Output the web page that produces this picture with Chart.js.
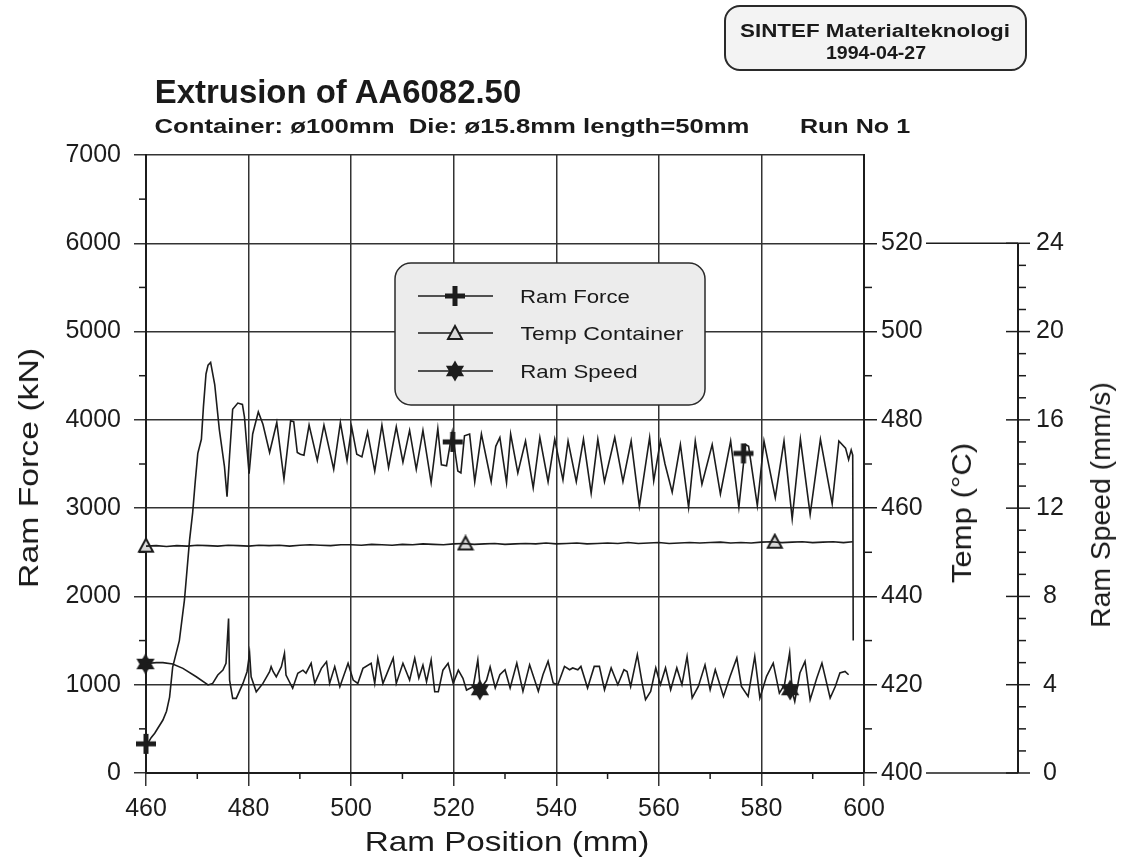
<!DOCTYPE html>
<html><head><meta charset="utf-8">
<script src="https://cdn.jsdelivr.net/npm/chart.js@4.4.1/dist/chart.umd.min.js"></script>
<style>
html,body{margin:0;padding:0;background:#fff;}
#wrap{position:relative;width:1124px;height:858px;overflow:hidden;font-family:"Liberation Sans",Arial,sans-serif;color:#1a1a1a;}
#c{position:absolute;left:0;top:0;}
.t{position:absolute;white-space:pre;line-height:1;transform-origin:50% 50%;}
.b{font-weight:bold;}
#hdr{position:absolute;left:724px;top:5px;width:299px;height:62px;border:2px solid #2a2a2a;border-radius:16px;background:#f3f3f3;}
</style></head>
<body><div id="wrap">
<div id="hdr"></div>
<canvas id="c" width="1124" height="858"></canvas>
<div class="t b" style="font-size:18px" data-cx="875" data-cy="31" data-w="270">SINTEF Materialteknologi</div>
<div class="t b" style="font-size:18px" data-cx="876" data-cy="53" data-w="100">1994-04-27</div>
<div class="t b" style="font-size:34px" data-cx="338" data-cy="91" data-w="367">Extrusion of AA6082.50</div>
<div class="t b" style="font-size:21px" data-cx="452" data-cy="125" data-w="595">Container: ø100mm  Die: ø15.8mm length=50mm</div>
<div class="t b" style="font-size:21px" data-cx="855" data-cy="125" data-w="110">Run No 1</div>
<div class="t" style="font-size:28px" data-cx="507" data-cy="842" data-w="285">Ram Position (mm)</div>
<div class="t" style="font-size:28px" data-cx="29" data-cy="468" data-w="240" data-r="-90">Ram Force (kN)</div>
<div class="t" style="font-size:28px" data-cx="962" data-cy="513" data-w="140" data-r="-90">Temp (°C)</div>
<div class="t" style="font-size:28px" data-cx="1101" data-cy="505" data-w="246" data-r="-90">Ram Speed (mm/s)</div>
<div class="t" style="font-size:19px" data-cx="575" data-cy="296" data-w="110">Ram Force</div>
<div class="t" style="font-size:19px" data-cx="601.5" data-cy="333" data-w="163">Temp Container</div>
<div class="t" style="font-size:19px" data-cx="578.5" data-cy="371" data-w="117">Ram Speed</div>
</div>
<script>
// ---------- data ----------
const xTicks = [460, 480, 500, 520, 540, 560, 580, 600];
const forceTicks = [0, 1000, 2000, 3000, 4000, 5000, 6000, 7000];
const tempTicks = [400, 420, 440, 460, 480, 500, 520];
const speedTicks = [0, 4, 8, 12, 16, 20, 24];

const forcePos = [460.0,461.0,461.7,463.3,464.0,464.6,465.2,466.5,467.5,468.5,469.1,469.6,470.1,470.8,471.2,471.7,472.1,472.6,473.4,474.3,475.3,475.8,476.3,476.9,477.9,478.8,479.2,480.1,480.8,481.9,482.8,484.1,485.5,486.9,488.2,488.8,489.5,490.1,490.8,491.8,493.4,494.7,496.6,497.9,499.2,500.1,501.1,502.1,503.2,504.6,506.0,507.3,508.8,510.1,511.4,512.7,514.0,515.6,516.9,517.6,518.6,519.7,520.8,521.4,522.1,523.1,524.1,525.4,527.3,528.2,529.0,530.3,531.1,532.5,534.0,535.5,536.8,538.4,539.7,541.3,542.3,543.9,545.3,546.8,548.1,549.4,551.4,553.0,554.6,556.2,558.2,559.0,560.3,561.2,562.6,564.2,565.8,567.1,568.4,570.4,572.0,574.0,575.6,576.9,577.5,579.2,580.5,582.7,584.4,586.0,587.6,589.5,591.5,593.8,595.1,596.4,597.0,597.5,597.8,597.9];
const forceVal = [300,400,450,600,700,860,1200,1500,1960,2640,2950,3300,3620,3780,4150,4520,4620,4650,4400,3890,3470,3130,3600,4120,4190,4175,4030,3390,3840,4090,3950,3630,3970,3330,3990,3980,3630,3610,3600,3940,3540,3940,3440,3970,3540,3920,3610,3580,3860,3420,3940,3460,3920,3520,3880,3440,3880,3290,3900,3490,3480,3860,3420,3400,3820,3840,3300,3840,3300,3700,3800,3290,3840,3400,3760,3230,3800,3300,3780,3320,3760,3300,3780,3170,3780,3300,3800,3300,3760,3020,3800,3310,3760,3500,3180,3720,3010,3760,3270,3720,3160,3760,3010,3720,3700,3030,3760,3120,3760,2880,3780,2930,3780,3050,3760,3680,3550,3660,3600,1500];

const tempPos = [460,462,464,466,468,470,472,474,476,478,480,482,484,486,488,490,492,494,496,498,500,502,504,506,508,510,512,514,516,518,520,522,524,526,528,530,532,534,536,538,540,542,544,546,548,550,552,554,556,558,560,562,564,566,568,570,572,574,576,578,580,582,584,586,588,590,592,594,596,597.8];
const tempVal = [451.4,451.5,451.3,451.5,451.4,451.6,451.5,451.4,451.6,451.5,451.4,451.6,451.5,451.6,451.4,451.6,451.7,451.6,451.5,451.7,451.7,451.6,451.8,451.7,451.6,451.8,451.7,451.9,451.8,451.7,451.9,452.0,451.8,451.9,452.0,451.8,451.9,452.0,451.9,452.1,451.9,452.0,452.1,451.9,452.0,452.1,452.0,452.2,452.0,452.1,452.2,452.0,452.1,452.2,452.1,452.2,452.3,452.1,452.2,452.1,452.3,452.4,452.2,452.3,452.4,452.2,452.3,452.4,452.2,452.4];

const speedPos = [459.9,460.7,462.0,463.3,465.2,467.2,469.8,472.1,473.0,474.0,475.0,475.6,476.1,476.3,476.9,477.6,478.9,479.7,480.2,480.5,481.5,482.8,484.1,484.4,484.8,485.4,486.4,487.0,487.3,488.6,489.6,490.6,491.2,492.2,492.9,494.2,495.2,495.8,496.8,497.8,499.4,500.4,501.3,502.3,503.9,504.6,505.2,506.2,508.2,508.8,510.1,511.4,512.4,513.2,514.0,514.7,515.6,516.3,517.0,517.9,518.9,519.9,520.9,521.8,522.5,523.8,524.7,525.2,526.4,527.1,528.1,529.0,530.0,531.0,532.3,533.5,534.8,536.5,537.4,538.4,539.4,540.3,541.6,542.6,543.2,544.2,544.8,546.1,547.4,548.4,549.4,550.7,552.0,553.2,553.8,554.5,555.8,556.8,557.4,558.4,559.4,560.3,561.3,562.3,563.5,564.5,565.5,566.5,567.7,569.0,570.0,571.0,572.6,573.9,575.2,576.1,577.4,578.7,579.7,581.0,582.3,583.5,584.5,585.5,586.0,586.5,587.5,588.5,589.5,590.8,591.8,593.4,594.4,595.3,596.3,597.0];
const speedVal = [4.94,4.97,5.00,5.00,4.94,4.74,4.36,3.99,4.06,4.44,4.66,4.97,7.00,4.21,3.38,3.38,4.06,4.59,5.42,4.36,3.68,4.06,4.59,4.82,4.59,4.36,4.82,5.42,4.44,3.84,4.52,4.66,4.52,4.97,4.06,4.74,5.04,4.06,4.82,3.91,4.97,4.21,4.06,4.74,4.97,4.06,5.20,4.06,5.20,4.06,4.97,4.21,5.20,4.30,4.89,4.14,5.12,3.68,3.68,4.66,4.97,4.06,4.66,4.29,3.76,3.91,5.12,3.80,4.20,4.80,3.85,4.45,4.68,3.85,4.98,3.70,4.90,3.70,4.45,5.06,4.08,4.00,4.83,4.68,4.76,4.68,4.83,3.85,4.83,4.83,3.77,4.76,4.00,4.68,4.60,3.92,5.36,4.00,3.32,3.70,4.76,4.00,4.76,3.77,4.76,4.00,5.28,3.40,3.92,4.90,3.77,4.68,3.47,4.38,5.21,3.92,3.47,5.28,3.40,4.38,4.98,3.62,4.00,5.44,3.70,3.24,4.53,5.06,3.32,4.30,4.98,3.40,3.92,4.53,4.60,4.45];

const forceMarkPos = [460.0, 519.8, 576.5];
const forceMarkVal = [330, 3750, 3620];
const tempMarkPos = [460.0, 522.3, 582.6];
const tempMarkVal = [451.5, 452.0, 452.4];
const speedMarkPos = [459.9, 525.1, 585.6];
const speedMarkVal = [4.94, 3.76, 3.76];

const legendLabels = ['Ram Force', 'Temp Container', 'Ram Speed'];

// ---------- helpers ----------
const FF = '"Liberation Sans", Arial, sans-serif';
const INK = '#1c1c1c';
const zip = (xs, ys) => xs.map((v, i) => ({x: v, y: ys[i]}));
const plain = v => String(v);

function mk(size, draw){ const c=document.createElement('canvas'); c.width=c.height=size; draw(c.getContext('2d'), size); return c; }
const plusImg = mk(22, (g,s)=>{ g.fillStyle=INK; g.fillRect(s/2-2.5,1,5,s-2); g.fillRect(1,s/2-2.5,s-2,5); });
const triImg = mk(18, (g,s)=>{ g.fillStyle='#d8d8d8'; g.strokeStyle=INK; g.lineWidth=2; g.beginPath(); g.moveTo(s/2,2); g.lineTo(s-2,s-3); g.lineTo(2,s-3); g.closePath(); g.fill(); g.stroke(); });
const starImg = mk(22, (g,s)=>{ g.fillStyle=INK; const r=s/2-0.5, c=s/2; for(const rot of [-Math.PI/2, Math.PI/2]){ g.beginPath(); for(let k=0;k<3;k++){ const a=rot+k*2*Math.PI/3; const px=c+r*Math.cos(a), py=c+r*Math.sin(a); if(k) g.lineTo(px,py); else g.moveTo(px,py);} g.closePath(); g.fill(); } });
const markerImgs = [plusImg, triImg, starImg];

function line(g,x1,y1,x2,y2){ g.beginPath(); g.moveTo(x1,y1); g.lineTo(x2,y2); g.stroke(); }

const decor = {
  id: 'decor',
  afterDraw(ch){
    const g = ch.ctx, a = ch.chartArea, X = ch.scales.x, Y = ch.scales.y, T = ch.scales.yT, S = ch.scales.yS;
    g.save();
    g.strokeStyle = INK; g.lineWidth = 1.5;
    // minor ticks
    for (let i = 0; i < xTicks.length - 1; i++) { const px = X.getPixelForValue((xTicks[i]+xTicks[i+1])/2); line(g, px, a.bottom, px, a.bottom + 6); }
    for (let i = 0; i < forceTicks.length - 1; i++) { const py = Y.getPixelForValue((forceTicks[i]+forceTicks[i+1])/2); line(g, a.left - 7, py, a.left, py); }
    for (let i = 0; i < tempTicks.length - 1; i++) { const py = T.getPixelForValue((tempTicks[i]+tempTicks[i+1])/2); line(g, a.right, py, a.right + 8, py); }
    // ram speed axis bracket
    const sx = S.left, sTop = S.getPixelForValue(speedTicks[speedTicks.length-1]), sBot = S.getPixelForValue(speedTicks[0]);
    g.lineWidth = 2;
    line(g, sx, sTop, sx, sBot);
    g.lineWidth = 1.5;
    line(g, 926, sTop, sx, sTop);
    line(g, 926, sBot, sx, sBot);
    for (const v of speedTicks) { const py = S.getPixelForValue(v); line(g, sx - 12, py, sx + 12, py); }
    for (let v = speedTicks[0]; v < speedTicks[speedTicks.length-1]; v++) { if (v % 4 === 0) continue; const py = S.getPixelForValue(v); line(g, sx, py, sx + 8, py); }
    // legend box
    g.beginPath(); g.roundRect(395, 263, 310, 142, 16);
    g.fillStyle = '#ececec'; g.fill();
    g.strokeStyle = '#2a2a2a'; g.lineWidth = 1.5; g.stroke();
    const ly = [296, 333, 371];
    g.strokeStyle = INK; g.lineWidth = 1.6;
    legendLabels.forEach((lab, i) => {
      line(g, 418, ly[i], 493, ly[i]);
      const im = markerImgs[i];
      g.drawImage(im, 455 - im.width/2, ly[i] - im.height/2);
    });
    g.restore();
  }
};

const tickFont = {family: FF, size: 25};
const seriesStyle = {borderColor: INK, borderWidth: 1.6, pointRadius: 0, tension: 0, fill: false};
const markStyle = {showLine: false, pointRadius: 10, clip: false};

new Chart(document.getElementById('c'), {
  type: 'line',
  data: { datasets: [
    {label: legendLabels[0], data: zip(forcePos, forceVal), yAxisID: 'y', ...seriesStyle},
    {label: legendLabels[1], data: zip(tempPos, tempVal), yAxisID: 'yT', ...seriesStyle},
    {label: legendLabels[2], data: zip(speedPos, speedVal), yAxisID: 'yS', ...seriesStyle},
    {label: 'm0', data: zip(forceMarkPos, forceMarkVal), yAxisID: 'y', pointStyle: plusImg, ...markStyle},
    {label: 'm1', data: zip(tempMarkPos, tempMarkVal), yAxisID: 'yT', pointStyle: triImg, ...markStyle},
    {label: 'm2', data: zip(speedMarkPos, speedMarkVal), yAxisID: 'yS', pointStyle: starImg, ...markStyle}
  ]},
  options: {
    responsive: false, animation: false, devicePixelRatio: 1,
    layout: {padding: {top: 155, left: 0, right: 0, bottom: 0}},
    plugins: {legend: {display: false}, tooltip: {enabled: false}},
    scales: {
      x: {type: 'linear', min: xTicks[0], max: xTicks[xTicks.length-1],
          afterBuildTicks: s => { s.ticks = xTicks.map(v => ({value: v})); },
          ticks: {font: tickFont, color: INK, padding: 8, maxRotation: 0, autoSkip: false, callback: plain},
          grid: {color: '#333', lineWidth: 1.5, tickLength: 13},
          border: {color: INK, width: 2},
          afterFit: s => { s.height = 85; }},
      y: {position: 'left', min: forceTicks[0], max: forceTicks[forceTicks.length-1],
          afterBuildTicks: s => { s.ticks = forceTicks.map(v => ({value: v})); },
          ticks: {font: tickFont, color: INK, padding: 13, autoSkip: false, callback: plain},
          grid: {color: '#333', lineWidth: 1.5, tickLength: 12},
          border: {color: INK, width: 2},
          afterFit: s => { s.width = 146; }},
      yT: {position: 'right', min: 400, max: 540,
          afterBuildTicks: s => { s.ticks = tempTicks.map(v => ({value: v})); },
          ticks: {font: tickFont, color: INK, padding: 4, autoSkip: false, callback: plain},
          grid: {drawOnChartArea: false, color: INK, lineWidth: 1.5, tickLength: 13},
          border: {color: INK, width: 2},
          afterFit: s => { s.width = 154; }},
      yS: {position: 'right', min: 0, max: 28,
          afterBuildTicks: s => { s.ticks = speedTicks.map(v => ({value: v})); },
          ticks: {font: tickFont, color: INK, padding: 10, crossAlign: 'center', autoSkip: false, callback: plain},
          grid: {display: false},
          border: {display: false},
          afterFit: s => { s.width = 106; }}
    }
  },
  plugins: [decor]
});

// fit the HTML text to the measured widths of the reference
document.querySelectorAll('.t').forEach(el => {
  const w = el.offsetWidth;
  const s = (+el.dataset.w) / w;
  const r = +(el.dataset.r || 0);
  el.style.left = el.dataset.cx + 'px';
  el.style.top = el.dataset.cy + 'px';
  el.style.transform = `translate(-50%,-50%) rotate(${r}deg) scaleX(${s.toFixed(3)})`;
});
</script>
</body></html>
